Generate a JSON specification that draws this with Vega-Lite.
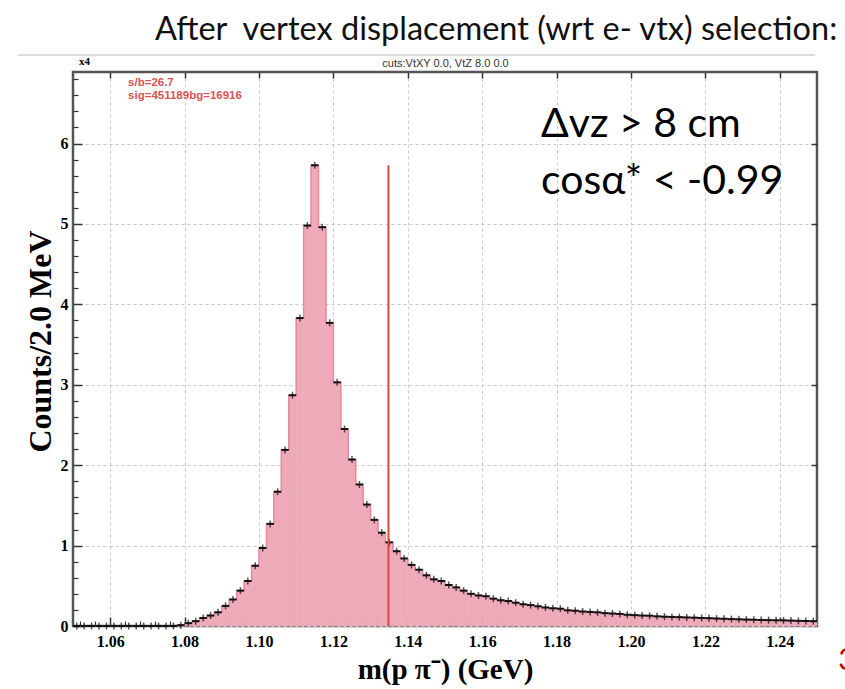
{
  "$schema": "https://vega.github.io/schema/vega-lite/v6.json",
  "width": 744,
  "height": 554,
  "autosize": "none",
  "padding": {"left": 73, "top": 72, "right": 28, "bottom": 63},
  "background": "white",
  "config": {"view": {"stroke": "#555", "strokeWidth": 2.5}},
  "title": {"text": "After\u00a0\u00a0vertex displacement (wrt e- vtx) selection:", "anchor": "start", "frame": "group", "dx": 82, "offset": 8, "font": "Lato", "fontSize": 32.5, "fontWeight": "normal", "color": "#111"},
  "data": {"values": [
    {"m":1.051,"lo":1.050,"hi":1.052,"c":0},{"m":1.053,"lo":1.052,"hi":1.054,"c":0},{"m":1.055,"lo":1.054,"hi":1.056,"c":0},{"m":1.057,"lo":1.056,"hi":1.058,"c":0},
    {"m":1.059,"lo":1.058,"hi":1.060,"c":0},{"m":1.061,"lo":1.060,"hi":1.062,"c":0},{"m":1.063,"lo":1.062,"hi":1.064,"c":0},{"m":1.065,"lo":1.064,"hi":1.066,"c":0},
    {"m":1.067,"lo":1.066,"hi":1.068,"c":0},{"m":1.069,"lo":1.068,"hi":1.070,"c":0},{"m":1.071,"lo":1.070,"hi":1.072,"c":0},{"m":1.073,"lo":1.072,"hi":1.074,"c":0},
    {"m":1.075,"lo":1.074,"hi":1.076,"c":0},{"m":1.077,"lo":1.076,"hi":1.078,"c":0},{"m":1.079,"lo":1.078,"hi":1.080,"c":0.01},{"m":1.081,"lo":1.080,"hi":1.082,"c":0.035},
    {"m":1.083,"lo":1.082,"hi":1.084,"c":0.06},{"m":1.085,"lo":1.084,"hi":1.086,"c":0.10},{"m":1.087,"lo":1.086,"hi":1.088,"c":0.13},{"m":1.089,"lo":1.088,"hi":1.090,"c":0.17},
    {"m":1.091,"lo":1.090,"hi":1.092,"c":0.25},{"m":1.093,"lo":1.092,"hi":1.094,"c":0.33},{"m":1.095,"lo":1.094,"hi":1.096,"c":0.44},{"m":1.097,"lo":1.096,"hi":1.098,"c":0.56},
    {"m":1.099,"lo":1.098,"hi":1.100,"c":0.75},{"m":1.101,"lo":1.100,"hi":1.102,"c":0.97},{"m":1.103,"lo":1.102,"hi":1.104,"c":1.27},{"m":1.105,"lo":1.104,"hi":1.106,"c":1.67},
    {"m":1.107,"lo":1.106,"hi":1.108,"c":2.19},{"m":1.109,"lo":1.108,"hi":1.110,"c":2.87},{"m":1.111,"lo":1.110,"hi":1.112,"c":3.83},{"m":1.113,"lo":1.112,"hi":1.114,"c":4.98},
    {"m":1.115,"lo":1.114,"hi":1.116,"c":5.73},{"m":1.117,"lo":1.116,"hi":1.118,"c":4.96},{"m":1.119,"lo":1.118,"hi":1.120,"c":3.77},{"m":1.121,"lo":1.120,"hi":1.122,"c":3.03},
    {"m":1.123,"lo":1.122,"hi":1.124,"c":2.45},{"m":1.125,"lo":1.124,"hi":1.126,"c":2.07},{"m":1.127,"lo":1.126,"hi":1.128,"c":1.76},{"m":1.129,"lo":1.128,"hi":1.130,"c":1.51},
    {"m":1.131,"lo":1.130,"hi":1.132,"c":1.32},{"m":1.133,"lo":1.132,"hi":1.134,"c":1.16},{"m":1.135,"lo":1.134,"hi":1.136,"c":1.04},{"m":1.137,"lo":1.136,"hi":1.138,"c":0.93},
    {"m":1.139,"lo":1.138,"hi":1.140,"c":0.84},{"m":1.141,"lo":1.140,"hi":1.142,"c":0.76},{"m":1.143,"lo":1.142,"hi":1.144,"c":0.70},{"m":1.145,"lo":1.144,"hi":1.146,"c":0.63},
    {"m":1.147,"lo":1.146,"hi":1.148,"c":0.58},{"m":1.149,"lo":1.148,"hi":1.150,"c":0.56},{"m":1.151,"lo":1.150,"hi":1.152,"c":0.51},{"m":1.153,"lo":1.152,"hi":1.154,"c":0.48},
    {"m":1.155,"lo":1.154,"hi":1.156,"c":0.44},{"m":1.157,"lo":1.156,"hi":1.158,"c":0.40},{"m":1.159,"lo":1.158,"hi":1.160,"c":0.38},{"m":1.161,"lo":1.160,"hi":1.162,"c":0.37},
    {"m":1.163,"lo":1.162,"hi":1.164,"c":0.34},{"m":1.165,"lo":1.164,"hi":1.166,"c":0.32},{"m":1.167,"lo":1.166,"hi":1.168,"c":0.31},{"m":1.169,"lo":1.168,"hi":1.170,"c":0.29},
    {"m":1.171,"lo":1.170,"hi":1.172,"c":0.27},{"m":1.173,"lo":1.172,"hi":1.174,"c":0.26},{"m":1.175,"lo":1.174,"hi":1.176,"c":0.245},{"m":1.177,"lo":1.176,"hi":1.178,"c":0.23},
    {"m":1.179,"lo":1.178,"hi":1.180,"c":0.22},{"m":1.181,"lo":1.180,"hi":1.182,"c":0.215},{"m":1.183,"lo":1.182,"hi":1.184,"c":0.195},{"m":1.185,"lo":1.184,"hi":1.186,"c":0.19},
    {"m":1.187,"lo":1.186,"hi":1.188,"c":0.18},{"m":1.189,"lo":1.188,"hi":1.190,"c":0.175},{"m":1.191,"lo":1.190,"hi":1.192,"c":0.17},{"m":1.193,"lo":1.192,"hi":1.194,"c":0.16},
    {"m":1.195,"lo":1.194,"hi":1.196,"c":0.155},{"m":1.197,"lo":1.196,"hi":1.198,"c":0.15},{"m":1.199,"lo":1.198,"hi":1.200,"c":0.14},{"m":1.201,"lo":1.200,"hi":1.202,"c":0.135},
    {"m":1.203,"lo":1.202,"hi":1.204,"c":0.13},{"m":1.205,"lo":1.204,"hi":1.206,"c":0.128},{"m":1.207,"lo":1.206,"hi":1.208,"c":0.12},{"m":1.209,"lo":1.208,"hi":1.210,"c":0.116},
    {"m":1.211,"lo":1.210,"hi":1.212,"c":0.113},{"m":1.213,"lo":1.212,"hi":1.214,"c":0.11},{"m":1.215,"lo":1.214,"hi":1.216,"c":0.106},{"m":1.217,"lo":1.216,"hi":1.218,"c":0.104},
    {"m":1.219,"lo":1.218,"hi":1.220,"c":0.10},{"m":1.221,"lo":1.220,"hi":1.222,"c":0.097},{"m":1.223,"lo":1.222,"hi":1.224,"c":0.093},{"m":1.225,"lo":1.224,"hi":1.226,"c":0.09},
    {"m":1.227,"lo":1.226,"hi":1.228,"c":0.086},{"m":1.229,"lo":1.228,"hi":1.230,"c":0.083},{"m":1.231,"lo":1.230,"hi":1.232,"c":0.08},{"m":1.233,"lo":1.232,"hi":1.234,"c":0.078},
    {"m":1.235,"lo":1.234,"hi":1.236,"c":0.075},{"m":1.237,"lo":1.236,"hi":1.238,"c":0.073},{"m":1.239,"lo":1.238,"hi":1.240,"c":0.071},{"m":1.241,"lo":1.240,"hi":1.242,"c":0.07},
    {"m":1.243,"lo":1.242,"hi":1.244,"c":0.067},{"m":1.245,"lo":1.244,"hi":1.246,"c":0.064},{"m":1.247,"lo":1.246,"hi":1.248,"c":0.062},{"m":1.249,"lo":1.248,"hi":1.250,"c":0.06}
  ]},
  "layer": [
    {
      "mark": {"type": "rect", "color": "#EEAAB9", "stroke": "#EEAAB9", "strokeWidth": 0.6},
      "encoding": {
        "x": {"field": "lo", "type": "quantitative", "scale": {"domain": [1.05, 1.25], "nice": false, "zero": false},
          "axis": {"orient": "bottom", "values": [1.06,1.08,1.1,1.12,1.14,1.16,1.18,1.2,1.22,1.24],
            "format": ".2f", "tickSize": -9, "tickColor": "#333", "tickWidth": 1.5,
            "grid": true, "gridDash": [3, 3], "gridColor": "#c8c8c8",
            "domain": false, "labelFont": "Liberation Serif", "labelFontWeight": "bold", "labelFontSize": 16, "labelColor": "#000", "labelPadding": 16, "labelOverlap": false,
            "title": "m(p π⁻) (GeV)", "titleFont": "Liberation Serif", "titleFontWeight": "bold", "titleFontSize": 29, "titleColor": "#000", "titlePadding": 6}},
        "x2": {"field": "hi"},
        "y": {"field": "c", "type": "quantitative", "scale": {"domain": [0, 6.89], "nice": false},
          "axis": {"orient": "left", "values": [0,1,2,3,4,5,6],
            "format": "d", "tickSize": -9, "tickColor": "#333", "tickWidth": 1.5,
            "grid": true, "gridDash": [3, 3], "gridColor": "#c8c8c8",
            "domain": false, "labelFont": "Liberation Serif", "labelFontWeight": "bold", "labelFontSize": 16, "labelColor": "#000", "labelPadding": 14, "labelOverlap": false,
            "title": "Counts/2.0 MeV", "titleFont": "Liberation Serif", "titleFontWeight": "bold", "titleFontSize": 32, "titleColor": "#000", "titlePadding": 3, "titleY": 269}},
        "y2": {"datum": 0}
      }
    },
    {
      "mark": {"type": "line", "interpolate": "step", "color": "#E68A9E", "strokeWidth": 1.5},
      "encoding": {
        "x": {"field": "m", "type": "quantitative", "scale": {"domain": [1.05, 1.25], "nice": false, "zero": false},
          "axis": {"orient": "top", "values": [1.06,1.08,1.1,1.12,1.14,1.16,1.18,1.2,1.22,1.24], "labels": false, "grid": false, "domain": false, "tickSize": -6, "tickColor": "#333", "tickWidth": 1.5,
            "title": "cuts:VtXY 0.0, VtZ 8.0  0.0", "titleFont": "Liberation Sans", "titleFontSize": 11, "titleFontWeight": "normal", "titleColor": "#333", "titlePadding": 3}},
        "y": {"field": "c", "type": "quantitative", "scale": {"domain": [0, 6.89], "nice": false},
          "axis": {"orient": "right", "values": [1,2,3,4,5,6], "labels": false, "grid": false, "domain": false, "tickSize": -6, "tickColor": "#333", "tickWidth": 1.5, "title": null}}
      }
    },
    {
      "mark": {"type": "rule", "color": "#111", "strokeWidth": 2},
      "encoding": {
        "x": {"field": "lo", "type": "quantitative",
          "axis": {"orient": "bottom", "values": [1.052,1.056,1.064,1.068,1.072,1.076,1.084,1.088,1.092,1.096,1.104,1.108,1.112,1.116,1.124,1.128,1.132,1.136,1.144,1.148,1.152,1.156,1.164,1.168,1.172,1.176,1.184,1.188,1.192,1.196,1.204,1.208,1.212,1.216,1.224,1.228,1.232,1.236,1.244,1.248],
            "labels": false, "grid": false, "domain": false, "tickSize": -5, "tickColor": "#333", "tickWidth": 1.2, "title": null}},
        "x2": {"field": "hi"},
        "y": {"field": "c", "type": "quantitative",
          "axis": {"orient": "left", "values": [0.2,0.4,0.6,0.8,1.2,1.4,1.6,1.8,2.2,2.4,2.6,2.8,3.2,3.4,3.6,3.8,4.2,4.4,4.6,4.8,5.2,5.4,5.6,5.8,6.2,6.4,6.6,6.8],
            "labels": false, "grid": false, "domain": false, "tickSize": -5, "tickColor": "#333", "tickWidth": 1.2, "title": null}}
      }
    },
    {
      "mark": {"type": "tick", "orient": "vertical", "color": "#111", "size": 7, "thickness": 1.5},
      "encoding": {
        "x": {"field": "m", "type": "quantitative", "axis": null},
        "y": {"field": "c", "type": "quantitative", "axis": null}
      }
    },
    {
      "data": {"values": [{}]},
      "mark": {"type": "rule", "color": "#D9473C", "strokeWidth": 2},
      "encoding": {
        "x": {"datum": 1.1348, "type": "quantitative", "axis": null},
        "y": {"datum": 0, "type": "quantitative", "axis": null},
        "y2": {"datum": 5.73}
      }
    },
    {
      "data": {"values": [{}]},
      "mark": {"type": "rule", "color": "#dddddd", "strokeWidth": 2},
      "encoding": {
        "x": {"datum": 1.0352, "type": "quantitative", "axis": null},
        "x2": {"datum": 1.2495},
        "y": {"datum": 7.10, "type": "quantitative", "axis": null}
      }
    },
    {
      "data": {"values": [{}]},
      "mark": {"type": "text", "font": "Lato", "fontSize": 41, "align": "left", "baseline": "alphabetic", "color": "#000"},
      "encoding": {"x": {"datum": 1.1758, "type": "quantitative", "axis": null}, "y": {"datum": 6.08, "type": "quantitative", "axis": null}, "text": {"value": "Δvz > 8 cm"}}
    },
    {
      "data": {"values": [{}]},
      "mark": {"type": "text", "font": "Lato", "fontSize": 41, "align": "left", "baseline": "alphabetic", "color": "#000"},
      "encoding": {"x": {"datum": 1.1758, "type": "quantitative", "axis": null}, "y": {"datum": 5.37, "type": "quantitative", "axis": null}, "text": {"value": "cosα* < -0.99"}}
    },
    {
      "data": {"values": [{}]},
      "mark": {"type": "text", "font": "Liberation Sans", "fontWeight": "bold", "fontSize": 11.5, "align": "left", "baseline": "alphabetic", "color": "#D9534F"},
      "encoding": {"x": {"datum": 1.0648, "type": "quantitative", "axis": null}, "y": {"datum": 6.71, "type": "quantitative", "axis": null}, "text": {"value": "s/b=26.7"}}
    },
    {
      "data": {"values": [{}]},
      "mark": {"type": "text", "font": "Liberation Sans", "fontWeight": "bold", "fontSize": 11.5, "align": "left", "baseline": "alphabetic", "color": "#D9534F"},
      "encoding": {"x": {"datum": 1.0648, "type": "quantitative", "axis": null}, "y": {"datum": 6.56, "type": "quantitative", "axis": null}, "text": {"value": "sig=451189bg=16916"}}
    },
    {
      "data": {"values": [{}]},
      "mark": {"type": "text", "font": "Liberation Serif", "fontWeight": "bold", "fontSize": 11, "align": "left", "baseline": "alphabetic", "color": "#000"},
      "encoding": {"x": {"datum": 1.0516, "type": "quantitative", "axis": null}, "y": {"datum": 6.98, "type": "quantitative", "axis": null}, "text": {"value": "x4"}}
    },
    {
      "data": {"values": [{}]},
      "mark": {"type": "text", "font": "Lato", "fontSize": 30, "align": "left", "baseline": "alphabetic", "color": "#C00000"},
      "encoding": {"x": {"datum": 1.2557, "type": "quantitative", "axis": null}, "y": {"datum": -0.55, "type": "quantitative", "axis": null}, "text": {"value": "3"}}
    }
  ],
  "resolve": {"axis": {"x": "independent", "y": "independent"}}
}
